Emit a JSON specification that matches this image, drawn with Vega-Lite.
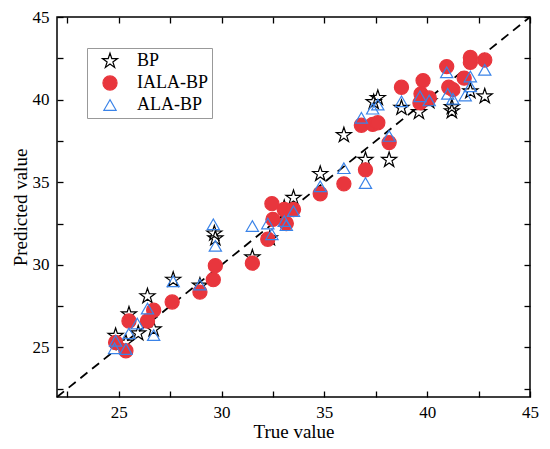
{
  "$schema": "https://vega.github.io/schema/vega-lite/v6.json",
  "width": 473,
  "height": 380,
  "padding": {"left": 11, "top": 8, "right": 10, "bottom": 4},
  "background": "white",
  "config": {
    "view": {"stroke": "black", "strokeWidth": 1.5},
    "axis": {"domain": false, "grid": false, "labelFlush": false, "tickColor": "black", "tickWidth": 1.3, "labelFont": "Liberation Serif", "labelFontSize": 17, "labelColor": "black", "titleFont": "Liberation Serif", "titleFontSize": 19, "titleFontWeight": "normal", "titleColor": "black"},
    "legend": {"labelFont": "Liberation Serif", "labelFontSize": 18, "labelColor": "black"}
  },
  "datasets": {
    "diag": [{"t": 22, "p": 22}, {"t": 45, "p": 45}],
    "pts": [
      {"s": "BP", "t": 24.85, "p": 25.7},
      {"s": "BP", "t": 25.35, "p": 25.3},
      {"s": "BP", "t": 25.5, "p": 27.0},
      {"s": "BP", "t": 25.95, "p": 25.85},
      {"s": "BP", "t": 26.4, "p": 28.1},
      {"s": "BP", "t": 26.7, "p": 26.1},
      {"s": "BP", "t": 27.65, "p": 29.1},
      {"s": "BP", "t": 28.95, "p": 28.75},
      {"s": "BP", "t": 29.65, "p": 31.9},
      {"s": "BP", "t": 29.7, "p": 31.6},
      {"s": "BP", "t": 31.5, "p": 30.45},
      {"s": "BP", "t": 32.35, "p": 31.6},
      {"s": "BP", "t": 33.05, "p": 33.45},
      {"s": "BP", "t": 33.5, "p": 34.05},
      {"s": "BP", "t": 34.8, "p": 35.5},
      {"s": "BP", "t": 35.95, "p": 37.85},
      {"s": "BP", "t": 37.0, "p": 36.35},
      {"s": "BP", "t": 37.4, "p": 39.85},
      {"s": "BP", "t": 37.6, "p": 40.1},
      {"s": "BP", "t": 38.15, "p": 36.35},
      {"s": "BP", "t": 38.75, "p": 39.5},
      {"s": "BP", "t": 39.6, "p": 39.25},
      {"s": "BP", "t": 40.1, "p": 39.9},
      {"s": "BP", "t": 41.2, "p": 39.55},
      {"s": "BP", "t": 41.2, "p": 39.3},
      {"s": "BP", "t": 42.1, "p": 40.5},
      {"s": "BP", "t": 42.8, "p": 40.2},
      {"s": "IALA-BP", "t": 24.85, "p": 25.3},
      {"s": "IALA-BP", "t": 25.35, "p": 24.8},
      {"s": "IALA-BP", "t": 25.5, "p": 26.6},
      {"s": "IALA-BP", "t": 26.4, "p": 26.6},
      {"s": "IALA-BP", "t": 26.7, "p": 27.25},
      {"s": "IALA-BP", "t": 27.6, "p": 27.75},
      {"s": "IALA-BP", "t": 28.95, "p": 28.35},
      {"s": "IALA-BP", "t": 29.6, "p": 29.1},
      {"s": "IALA-BP", "t": 29.7, "p": 29.95},
      {"s": "IALA-BP", "t": 31.5, "p": 30.1},
      {"s": "IALA-BP", "t": 32.25, "p": 31.55},
      {"s": "IALA-BP", "t": 32.45, "p": 33.7},
      {"s": "IALA-BP", "t": 32.5, "p": 32.75},
      {"s": "IALA-BP", "t": 33.05, "p": 33.35},
      {"s": "IALA-BP", "t": 33.15, "p": 32.5},
      {"s": "IALA-BP", "t": 33.5, "p": 33.35},
      {"s": "IALA-BP", "t": 34.8, "p": 34.3},
      {"s": "IALA-BP", "t": 35.95, "p": 34.9},
      {"s": "IALA-BP", "t": 36.8, "p": 38.45},
      {"s": "IALA-BP", "t": 37.0, "p": 35.75},
      {"s": "IALA-BP", "t": 37.35, "p": 38.5},
      {"s": "IALA-BP", "t": 37.6, "p": 38.6},
      {"s": "IALA-BP", "t": 38.15, "p": 37.4},
      {"s": "IALA-BP", "t": 38.75, "p": 40.75},
      {"s": "IALA-BP", "t": 39.65, "p": 39.8},
      {"s": "IALA-BP", "t": 39.7, "p": 40.35},
      {"s": "IALA-BP", "t": 39.8, "p": 41.15},
      {"s": "IALA-BP", "t": 40.1, "p": 40.1},
      {"s": "IALA-BP", "t": 40.95, "p": 42.0},
      {"s": "IALA-BP", "t": 41.05, "p": 40.75},
      {"s": "IALA-BP", "t": 41.25, "p": 40.6},
      {"s": "IALA-BP", "t": 41.8, "p": 41.3},
      {"s": "IALA-BP", "t": 42.1, "p": 42.55},
      {"s": "IALA-BP", "t": 42.1, "p": 42.25},
      {"s": "IALA-BP", "t": 42.8, "p": 42.4},
      {"s": "ALA-BP", "t": 24.8, "p": 24.95},
      {"s": "ALA-BP", "t": 24.85, "p": 25.4},
      {"s": "ALA-BP", "t": 25.35, "p": 24.9},
      {"s": "ALA-BP", "t": 25.5, "p": 25.85},
      {"s": "ALA-BP", "t": 25.9, "p": 26.45},
      {"s": "ALA-BP", "t": 26.4, "p": 27.35},
      {"s": "ALA-BP", "t": 26.7, "p": 25.75},
      {"s": "ALA-BP", "t": 27.65, "p": 29.0},
      {"s": "ALA-BP", "t": 28.95, "p": 28.8},
      {"s": "ALA-BP", "t": 29.6, "p": 32.45},
      {"s": "ALA-BP", "t": 29.7, "p": 31.15},
      {"s": "ALA-BP", "t": 31.5, "p": 32.35},
      {"s": "ALA-BP", "t": 32.25, "p": 32.5},
      {"s": "ALA-BP", "t": 32.45, "p": 31.85},
      {"s": "ALA-BP", "t": 33.05, "p": 32.65},
      {"s": "ALA-BP", "t": 33.15, "p": 32.4},
      {"s": "ALA-BP", "t": 33.5, "p": 33.25},
      {"s": "ALA-BP", "t": 34.8, "p": 34.75},
      {"s": "ALA-BP", "t": 35.95, "p": 35.85},
      {"s": "ALA-BP", "t": 36.8, "p": 38.9},
      {"s": "ALA-BP", "t": 37.0, "p": 34.95},
      {"s": "ALA-BP", "t": 37.35, "p": 39.45},
      {"s": "ALA-BP", "t": 37.6, "p": 39.7},
      {"s": "ALA-BP", "t": 38.15, "p": 37.8},
      {"s": "ALA-BP", "t": 38.75, "p": 39.9},
      {"s": "ALA-BP", "t": 39.65, "p": 40.2},
      {"s": "ALA-BP", "t": 40.1, "p": 39.95},
      {"s": "ALA-BP", "t": 40.95, "p": 41.65},
      {"s": "ALA-BP", "t": 41.0, "p": 40.35},
      {"s": "ALA-BP", "t": 41.25, "p": 40.05},
      {"s": "ALA-BP", "t": 41.85, "p": 40.25},
      {"s": "ALA-BP", "t": 42.1, "p": 41.4},
      {"s": "ALA-BP", "t": 42.1, "p": 40.8},
      {"s": "ALA-BP", "t": 42.8, "p": 41.8}
    ]
  },
  "layer": [
    {
      "data": {"name": "diag"},
      "mark": {"type": "line", "color": "black", "strokeWidth": 1.8, "strokeDash": [9, 6]},
      "encoding": {
        "x": {"field": "t", "type": "quantitative", "scale": {"domain": [22, 45], "nice": false, "zero": false},
          "axis": {"orient": "top", "values": [22.5, 25, 27.5, 30, 32.5, 35, 37.5, 40, 42.5, 45], "tickSize": 6, "offset": -6, "labels": false, "title": null}},
        "y": {"field": "p", "type": "quantitative", "scale": {"domain": [22, 45], "nice": false, "zero": false},
          "axis": {"orient": "right", "values": [22.5, 25, 27.5, 30, 32.5, 35, 37.5, 40, 42.5, 45], "tickSize": 6, "offset": -6, "labels": false, "title": null}}
      }
    },
    {
      "data": {"name": "pts"},
      "mark": {"type": "point", "strokeWidth": 1.2, "opacity": 1},
      "encoding": {
        "x": {"field": "t", "type": "quantitative", "scale": {"domain": [22, 45], "nice": false, "zero": false},
          "axis": {"orient": "bottom", "values": [22.5, 25, 27.5, 30, 32.5, 35, 37.5, 40, 42.5, 45], "labelExpr": "datum.value % 5 === 0 ? datum.label : ''", "tickSize": 6, "offset": -6, "labelPadding": 7, "title": "True value", "titlePadding": 2}},
        "y": {"field": "p", "type": "quantitative", "scale": {"domain": [22, 45], "nice": false, "zero": false},
          "axis": {"orient": "left", "values": [22.5, 25, 27.5, 30, 32.5, 35, 37.5, 40, 42.5, 45], "labelExpr": "datum.value % 5 === 0 ? datum.label : ''", "tickSize": 6, "offset": -6, "labelPadding": 8, "title": "Predicted value", "titlePadding": 2}},
        "shape": {"field": "s", "type": "nominal", "scale": {"domain": ["BP", "IALA-BP", "ALA-BP"], "range": ["M0,-1L0.225,-0.309L0.951,-0.309L0.363,0.118L0.588,0.809L0,0.382L-0.588,0.809L-0.363,0.118L-0.951,-0.309L-0.225,-0.309Z", "circle", "triangle-up"]},
          "legend": {"title": null, "orient": "none", "legendX": 30, "legendY": 31, "strokeColor": "#999999", "padding": 4, "rowPadding": 3, "symbolOffset": 10, "symbolStrokeWidth": 1.2, "labelOffset": 18, "labelFont": "Liberation Serif", "labelFontSize": 18, "labelColor": "black"}},
        "stroke": {"field": "s", "type": "nominal", "scale": {"domain": ["BP", "IALA-BP", "ALA-BP"], "range": ["#000000", "#e8363d", "#3a83e8"]},
          "legend": {"title": null, "orient": "none", "legendX": 30, "legendY": 31, "strokeColor": "#999999", "padding": 4, "rowPadding": 3, "symbolOffset": 10, "symbolStrokeWidth": 1.2, "labelOffset": 18, "labelFont": "Liberation Serif", "labelFontSize": 18, "labelColor": "black"}},
        "fill": {"field": "s", "type": "nominal", "scale": {"domain": ["BP", "IALA-BP", "ALA-BP"], "range": ["transparent", "#e8363d", "transparent"]},
          "legend": {"title": null, "orient": "none", "legendX": 30, "legendY": 31, "strokeColor": "#999999", "padding": 4, "rowPadding": 3, "symbolOffset": 10, "symbolStrokeWidth": 1.2, "labelOffset": 18, "labelFont": "Liberation Serif", "labelFontSize": 18, "labelColor": "black"}},
        "size": {"field": "s", "type": "nominal", "scale": {"domain": ["BP", "IALA-BP", "ALA-BP"], "range": [250, 150, 190]},
          "legend": {"title": null, "orient": "none", "legendX": 30, "legendY": 31, "strokeColor": "#999999", "padding": 4, "rowPadding": 3, "symbolOffset": 10, "symbolStrokeWidth": 1.2, "labelOffset": 18, "labelFont": "Liberation Serif", "labelFontSize": 18, "labelColor": "black"}}
      }
    }
  ],
  "resolve": {"axis": {"x": "independent", "y": "independent"}}
}
